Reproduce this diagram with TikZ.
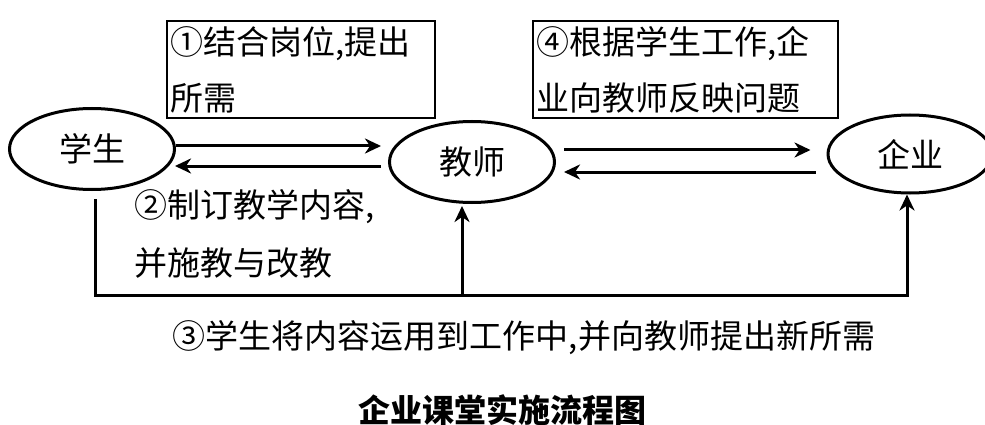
\documentclass[tikz,border=0pt]{standalone}
\usepackage{fontspec}
\setmainfont{Noto Sans CJK SC}
\usepackage{tikz}
\usetikzlibrary{arrows.meta}
\usetikzlibrary{shapes.geometric}
\tikzstyle{Arrow}=[-{Stealth[length=16pt,width=15pt,inset=5pt]}]

\begin{document}
\begin{tikzpicture}[
  x=1pt, y=-1pt,
  line width=3pt,
  Party/.style={draw, ellipse, minimum width=165pt, minimum height=81pt, inner sep=0,
    font=\fontsize{33}{40}\selectfont},
  Box/.style={draw, line width=1.8pt, minimum height=97pt, inner sep=3pt, align=left,
    font=\fontsize{33}{56}\selectfont},
  Label/.style={inner sep=0, align=left, font=\fontsize{33}{58}\selectfont}
]
\useasboundingbox (0,0) rectangle (985,425);

% the three parties
\node[Party] (stu) at (92,149) {学生};
\node[Party] (tea) at (472,162) {教师};
\node[Party, minimum width=164pt, minimum height=78pt] (ent) at (910,154) {企业};

% steps 1 and 4
\node[Box, minimum width=268pt, text width=262pt] (need) at (301,69.5) {①结合岗位,提出\\所需};
\node[Box, minimum width=305pt, text width=299pt] (feed) at (685.5,69.5) {④根据学生工作,企\\业向教师反映问题};

% arrows between parties
\draw[Arrow] ([yshift=3pt]stu.east) to ([xshift=-7pt,yshift=16pt]tea.west);
\draw[Arrow] ([xshift=-7pt,yshift=-4pt]tea.west) to ([xshift=-1pt,yshift=-17pt]stu.east);
\draw[Arrow] ([xshift=8pt,yshift=12pt]tea.east) to ([xshift=-16pt,yshift=4pt]ent.west);
\draw[Arrow] ([xshift=-11pt,yshift=-18pt]ent.west) to ([xshift=8pt,yshift=-10pt]tea.east);

% step 2
\node[Label, anchor=west] (teach) at (133,234) {②制订教学内容,\\并施教与改教};

% step 3, the loop below
\coordinate (base) at (0,295);
\coordinate (start) at ([xshift=3pt,yshift=-8pt]stu.south);
\draw[Arrow] (start) -- (start |- base) -| ([xshift=-3pt]ent.south);
\draw[Arrow] ([xshift=-10pt]tea.south |- base) -- ([xshift=-10pt,yshift=-2pt]tea.south);
\node[Label] (use) at (524,338) {③学生将内容运用到工作中,并向教师提出新所需};

\node[font=\fontsize{32}{38}\selectfont\bfseries] (title) at (502,410) {企业课堂实施流程图};

\end{tikzpicture}
\end{document}
